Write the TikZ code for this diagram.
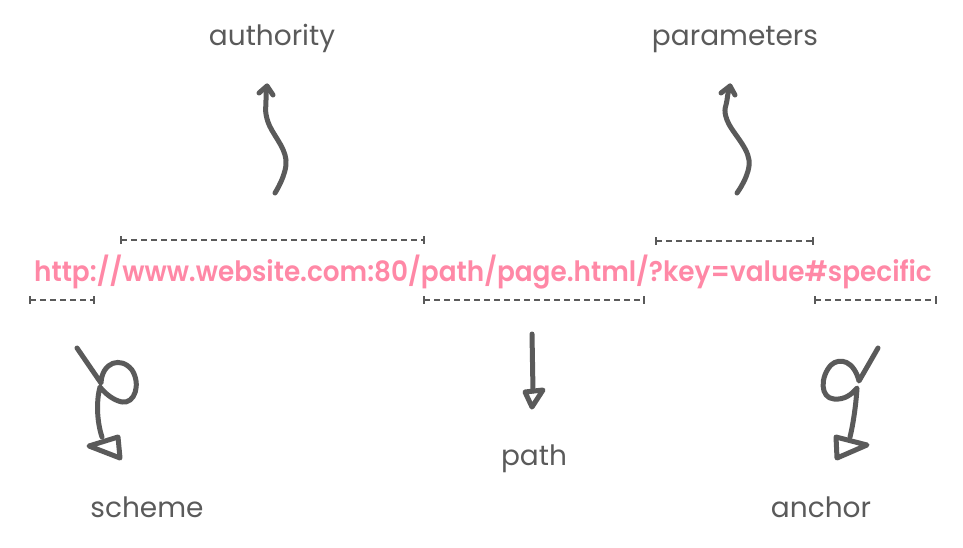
\documentclass[tikz,border=0pt]{standalone}
\usepackage{fontspec}
\setmainfont{Poppins}
\newfontfamily\urlfont{Poppins SemiBold}
\definecolor{ink}{HTML}{5A5A5A}
\definecolor{pinkurl}{HTML}{FF88A6}
\begin{document}
\begin{tikzpicture}[x=1pt,y=-1pt,
  lbl/.style={anchor=base,text=ink,font=\fontsize{28}{32}\selectfont,inner sep=0pt},
  urltext/.style={anchor=base,text=pinkurl,font=\fontsize{28}{32}\selectfont\urlfont,inner sep=0pt,xscale=0.94},
  handarrow/.style={draw=ink,line width=5pt,line cap=round,line join=round},
  bracket/.style={draw=ink,line width=1.5pt,dash pattern=on 6pt off 4pt},
  bracketend/.style={draw=ink,line width=1.5pt}]
\useasboundingbox (0,0) rectangle (963,547);
% texts
\node[urltext] (url) at (483,281) {http://www.website.com:80/path/page.html/?key=value\#specific};
\node[lbl] (authority) at (272,45) {authority};
\node[lbl] (parameters) at (735,45) {parameters};
\node[lbl] (scheme) at (147,517) {scheme};
\node[lbl] (path) at (534,465) {path};
\node[lbl] (anchor) at (821,517) {anchor};
% brackets
\foreach \a/\b/\y in {121/424/240, 656/813/241, 30/94/300, 424/644/300, 815/936/300}{
  \draw[bracket] (\a,\y) -- (\b,\y);
  \draw[bracketend] (\a,\y-4) -- (\a,\y+4);
  \draw[bracketend] (\b,\y-4) -- (\b,\y+4);
}
% authority arrow
\coordinate (a0) at (275,193);
\coordinate (a1) at (267,86);
\draw[handarrow] plot[smooth,tension=0.7] coordinates {(a0) (286,160) (268,122) (266,100) (a1)};
\draw[handarrow] (259,93) -- (a1) -- (273,95);
% parameters arrow
\coordinate (p0) at (737,193);
\coordinate (p1) at (730,86);
\draw[handarrow] plot[smooth,tension=0.7] coordinates {(p0) (749,160) (727,120) (727,100) (p1)};
\draw[handarrow] (721,93) -- (p1) -- (735,95);
% scheme arrow
\coordinate (s0) at (77,348);
\coordinate (s1) at (102,437);
\draw[handarrow] (s0) -- (101,383) .. controls (102,362) and (121,356) .. (132,370)
  .. controls (141,384) and (135,404) .. (122,402)
  .. controls (112,400) and (104,392) .. (100,387)
  .. controls (96,402) and (97,422) .. (s1);
\draw[handarrow] (89,446) -- (118,437) -- (120,458) -- cycle;
% path arrow
\coordinate (t0) at (532,334);
\coordinate (t1) at (533,391);
\draw[handarrow] (t0) -- (t1);
\draw[handarrow] (525,392) -- (543,390) -- (532,407) -- cycle;
% anchor arrow
\coordinate (n0) at (878,348);
\coordinate (n1) at (850,437);
\draw[handarrow] (n0) -- (859,381) .. controls (854,361) and (840,357) .. (831,365)
  .. controls (820,377) and (820,398) .. (834,399)
  .. controls (845,400) and (852,394) .. (857,388)
  .. controls (856,405) and (853,425) .. (n1);
\draw[handarrow] (836,437) -- (867,445) -- (837,458) -- cycle;
\end{tikzpicture}
\end{document}
